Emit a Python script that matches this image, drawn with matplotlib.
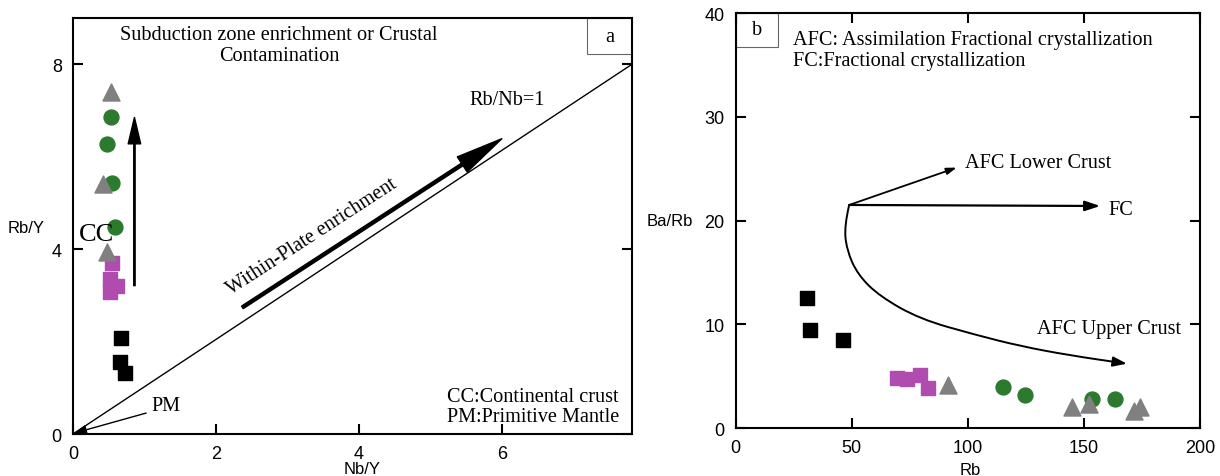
import numpy as np
import matplotlib
matplotlib.use("Agg")
import matplotlib.pyplot as plt
from matplotlib.path import Path
from matplotlib.patches import FancyArrowPatch, Rectangle

SERIF = "Liberation Serif"
SANS = "Liberation Sans"
FS = 14.6  # serif annotation size

# ---- panel a: Nb/Y vs Rb/Y ----
a_black_x = [0.67, 0.66, 0.73]
a_black_y = [2.07, 1.55, 1.33]
a_mag_x = [0.55, 0.52, 0.61, 0.52]
a_mag_y = [3.71, 3.35, 3.21, 3.07]
a_green_x = [0.53, 0.48, 0.55, 0.59]
a_green_y = [6.86, 6.28, 5.44, 4.47]
a_gray_x = [0.53, 0.42, 0.48]
a_gray_y = [7.40, 5.40, 3.94]

# ---- panel b: Rb vs Ba/Rb ----
b_black_x = [30.6, 32.0, 46.1]
b_black_y = [12.5, 9.44, 8.5]
b_mag_x = [69.4, 73.7, 79.4, 83.0]
b_mag_y = [4.79, 4.72, 5.1, 3.82]
b_green_x = [115.1, 124.7, 153.7, 163.5]
b_green_y = [3.92, 3.18, 2.8, 2.8]
b_gray_x = [91.6, 144.8, 152.0, 171.4, 174.3]
b_gray_y = [4.14, 2.0, 2.3, 1.67, 2.0]

# AFC upper crust trend (Rb, Ba/Rb)
upper_x = [48.9, 46.8, 47.8, 52.5, 62.0, 79.4, 103.0, 122.5, 144.0, 168.5]
upper_y = [21.5, 19.5, 17.2, 14.8, 12.7, 10.5, 9.0, 7.9, 7.0, 6.2]

GREEN = "#2b7a2e"
MAGENTA = "#b04cb0"
GRAY = "#808080"


def smooth_path(xs, ys):
    """quadratic bezier chain through midpoints, gives a smooth trend line"""
    verts = [(xs[0], ys[0])]
    codes = [Path.MOVETO]
    for i in range(1, len(xs) - 1):
        verts.append((xs[i], ys[i]))
        verts.append(((xs[i] + xs[i + 1]) / 2, (ys[i] + ys[i + 1]) / 2))
        codes += [Path.CURVE3, Path.CURVE3]
    verts.append((xs[-1], ys[-1]))
    codes.append(Path.LINETO)
    return Path(verts, codes)


def style_axes(ax):
    for s in ax.spines.values():
        s.set_linewidth(1.5)
    ax.tick_params(direction="in", length=7, width=1.5, pad=8, labelsize=13)
    for lab in ax.get_xticklabels() + ax.get_yticklabels():
        lab.set_fontfamily(SANS)


def draw_points(ax, bx, by, mx, my, gx, gy, tx, ty):
    ax.scatter(bx, by, marker="s", s=100, color="black", zorder=3)
    ax.scatter(mx, my, marker="s", s=100, color=MAGENTA, zorder=3)
    ax.scatter(gx, gy, marker="o", s=115, color=GREEN, zorder=3)
    ax.scatter(tx, ty, marker="^", s=150, color=GRAY, zorder=4)


fig = plt.figure(figsize=(12.2, 4.77), dpi=100)

# ---------------- panel a ----------------
ax1 = fig.add_axes([0.0598, 0.088, 0.4582, 0.872])
ax1.set_xlim(0, 7.82)
ax1.set_ylim(0, 9)
ax1.set_xticks([0, 2, 4, 6])
ax1.set_yticks([0, 4, 8])
ax1.tick_params(right=True, top=False)
style_axes(ax1)

draw_points(ax1, a_black_x, a_black_y, a_mag_x, a_mag_y,
            a_green_x, a_green_y, a_gray_x, a_gray_y)

# Rb/Nb = 1 reference line
ax1.plot([0, 7.82], [0, 8.0], color="black", lw=1.0, zorder=2)
ax1.text(5.55, 7.24, "Rb/Nb=1", family=SERIF, fontsize=FS, va="center")

# within-plate enrichment arrow
ax1.annotate("", xy=(6.0, 6.39), xytext=(2.37, 2.74),
             arrowprops=dict(facecolor="black", edgecolor="black", width=2.2,
                             headwidth=13, headlength=34, shrink=0))
ax1.text(3.35, 4.29, "Within-Plate enrichment", family=SERIF, fontsize=FS,
         rotation=33, ha="center", va="center", rotation_mode="anchor")

# subduction / crustal contamination arrow
ax1.annotate("", xy=(0.86, 6.85), xytext=(0.86, 3.21),
             arrowprops=dict(facecolor="black", edgecolor="black", width=1.0,
                             headwidth=9, headlength=19, shrink=0))

ax1.text(0.33, 4.32, "CC", family=SERIF, fontsize=19, ha="center", va="center")
ax1.annotate("PM", xy=(0.02, 0.02), xytext=(1.10, 0.61), family=SERIF,
             fontsize=FS, va="center",
             arrowprops=dict(arrowstyle="-|>,head_length=0.5,head_width=0.2",
                             color="black", lw=1.0, shrinkA=2, shrinkB=0,
                             relpos=(0, 0.2)))

ax1.text(0.3685, 0.935, "Subduction zone enrichment or Crustal\nContamination",
         transform=ax1.transAxes, family=SERIF, fontsize=FS, ha="center",
         va="center", linespacing=1.1)
ax1.text(0.669, 0.066, "CC:Continental crust\nPM:Primitive Mantle",
         transform=ax1.transAxes, family=SERIF, fontsize=FS, ha="left",
         va="center", linespacing=1.1)

ax1.add_patch(Rectangle((0.9195, 0.913), 0.0805, 0.087, transform=ax1.transAxes,
                        fill=False, edgecolor="#666666", lw=0.8))
ax1.text(0.96, 0.956, "a", transform=ax1.transAxes, family=SERIF, fontsize=FS,
         ha="center", va="center")

ax1.text(-0.084, 0.4976, "Rb/Y", transform=ax1.transAxes, family=SANS,
         fontsize=12, ha="center", va="center")
ax1.text(0.517, -0.084, "Nb/Y", transform=ax1.transAxes, family=SANS,
         fontsize=12, ha="center", va="center")

# ---------------- panel b ----------------
ax2 = fig.add_axes([0.603, 0.1006, 0.3806, 0.87])
ax2.set_xlim(0, 200)
ax2.set_ylim(0, 40)
ax2.set_xticks([0, 50, 100, 150, 200])
ax2.set_yticks([0, 10, 20, 30, 40])
ax2.tick_params(right=True, top=True)
style_axes(ax2)

draw_points(ax2, b_black_x, b_black_y, b_mag_x, b_mag_y,
            b_green_x, b_green_y, b_gray_x, b_gray_y)

# AFC lower crust and FC vectors
ax2.annotate("", xy=(95.2, 25.1), xytext=(upper_x[0], upper_y[0]),
             arrowprops=dict(arrowstyle="-|>,head_length=0.6,head_width=0.2",
                             color="black", lw=1.3, shrinkA=0, shrinkB=0))
ax2.annotate("", xy=(157.0, 21.4), xytext=(upper_x[0], upper_y[0]),
             arrowprops=dict(arrowstyle="-|>,head_length=0.9,head_width=0.3",
                             color="black", lw=1.6, shrinkA=0, shrinkB=0))
# AFC upper crust curve
curve = FancyArrowPatch(path=smooth_path(upper_x, upper_y),
                        arrowstyle="-|>,head_length=0.7,head_width=0.25",
                        mutation_scale=12, color="black", lw=1.4,
                        transform=ax2.transData)
ax2.add_patch(curve)

ax2.text(98.8, 25.6, "AFC Lower Crust", family=SERIF, fontsize=FS, va="center")
ax2.text(160.4, 21.1, "FC", family=SERIF, fontsize=FS, va="center")
ax2.text(129.7, 9.63, "AFC Upper Crust", family=SERIF, fontsize=FS, va="center")

ax2.text(0.1228, 0.911,
         "AFC: Assimilation Fractional crystallization\nFC:Fractional crystallization",
         transform=ax2.transAxes, family=SERIF, fontsize=FS, ha="left",
         va="center", linespacing=1.1)

ax2.add_patch(Rectangle((0, 0.918), 0.0905, 0.082, transform=ax2.transAxes,
                        fill=False, edgecolor="#666666", lw=0.8))
ax2.text(0.045, 0.96, "b", transform=ax2.transAxes, family=SERIF, fontsize=FS,
         ha="center", va="center")

ax2.text(-0.1415, 0.501, "Ba/Rb", transform=ax2.transAxes, family=SANS,
         fontsize=12, ha="center", va="center")
ax2.text(0.5046, -0.099, "Rb", transform=ax2.transAxes, family=SANS,
         fontsize=12, ha="center", va="center")

fig.savefig("out.png", dpi=100)
